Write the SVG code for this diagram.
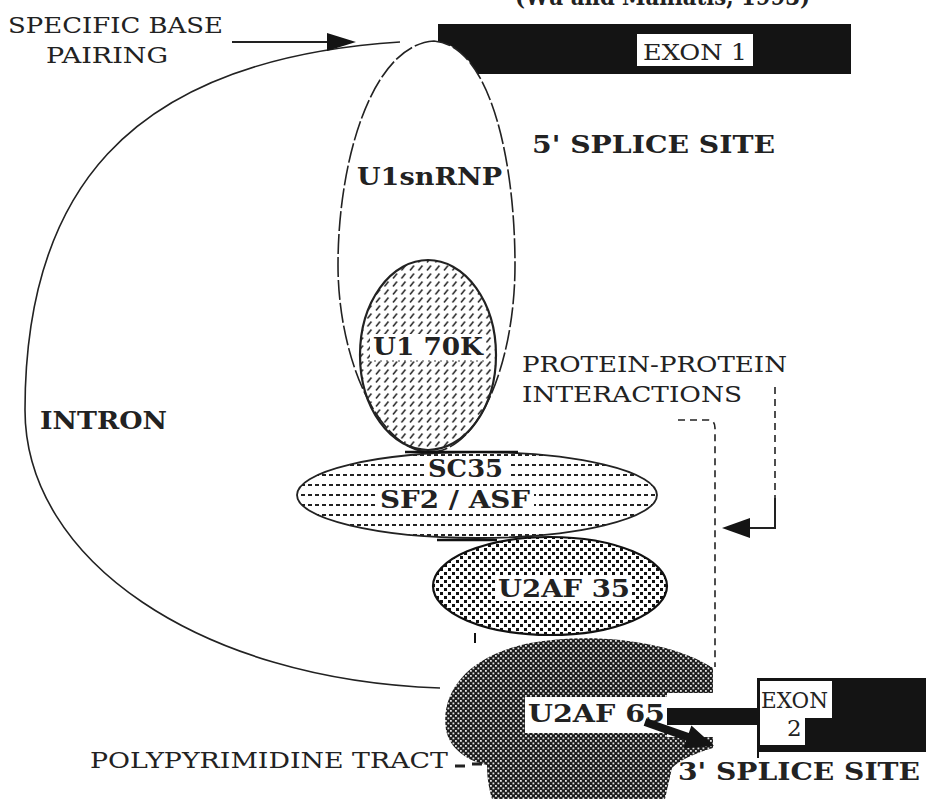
<svg xmlns="http://www.w3.org/2000/svg" width="926" height="799" viewBox="0 0 926 799">
<style>
.reg{font-family:"DejaVu Serif","Liberation Serif",serif;font-size:23px;fill:#222}
.bold{font-family:"DejaVu Serif","Liberation Serif",serif;font-size:25px;font-weight:bold;fill:#222}
.outline{fill:none;stroke:#222;stroke-width:1.6}
.dash{fill:none;stroke:#222;stroke-width:1.6;stroke-dasharray:7 5}
</style>
<defs>
<pattern id="hatch" width="8.5" height="8" patternUnits="userSpaceOnUse"><path d="M2 6.5 L6 1.5" stroke="#222" stroke-width="1.5"/></pattern>
<pattern id="hdash" width="7" height="10" patternUnits="userSpaceOnUse"><rect x="0" y="4" width="4" height="2" fill="#222"/></pattern>
<pattern id="dots" width="8" height="8" patternUnits="userSpaceOnUse"><rect x="0" y="0" width="3" height="3" fill="#111"/><rect x="4" y="4" width="3" height="3" fill="#111"/></pattern>
<pattern id="xh" width="5" height="5" patternUnits="userSpaceOnUse"><rect width="5" height="5" fill="#1c1c1c"/><rect x="0" y="0" width="1.8" height="1.8" fill="#e6e6e6"/><rect x="2.5" y="2.5" width="1.8" height="1.8" fill="#e6e6e6"/></pattern>
</defs>
<rect width="926" height="799" fill="#fff"/>

<text class="bold" x="515" y="5" textLength="295" lengthAdjust="spacingAndGlyphs">(Wu and Maniatis, 1993)</text>

<g id="exon1">
<rect x="438" y="24" width="413" height="50" fill="#141414"/>
<rect x="637" y="34" width="116" height="32" fill="#fff"/>
<text class="reg" x="643" y="60" textLength="104" lengthAdjust="spacingAndGlyphs">EXON 1</text>
</g>

<g id="u1snrnp">
<path d="M434 41 C372 45 338 160 338 265 C338 360 380 452 430 452 C480 452 515 360 515 265 C515 160 490 45 434 41 Z" fill="#fff"/>
<path d="M434 41 C372 45 338 160 338 265 C338 360 380 452 430 452 C480 452 515 360 515 265 C515 160 490 45 434 41 Z" fill="none" stroke="#222" stroke-width="1.6" stroke-dasharray="20 3"/>
<text class="bold" x="357" y="185" textLength="145" lengthAdjust="spacingAndGlyphs">U1snRNP</text>
</g>

<g id="intron">
<path class="outline" d="M400 42 C120 60 25 200 25 410 C25 560 200 680 440 688"/>
<text class="bold" x="40" y="429" textLength="127" lengthAdjust="spacingAndGlyphs">INTRON</text>
</g>

<g id="u1-70k">
<ellipse cx="428" cy="355" rx="68" ry="95" fill="url(#hatch)" stroke="#222" stroke-width="2.2"/>
<rect x="370" y="334" width="116" height="26" fill="#fff"/>
<line x1="368" y1="361" x2="488" y2="361" stroke="#444" stroke-width="1.2" stroke-dasharray="2 4"/>
<text class="bold" x="373" y="355" textLength="110" lengthAdjust="spacingAndGlyphs">U1 70K</text>
</g>

<g id="sc35-sf2">
<ellipse cx="477" cy="495" rx="180" ry="43" fill="#fff"/>
<ellipse cx="477" cy="495" rx="180" ry="43" fill="url(#hdash)" stroke="#222" stroke-width="1.8"/>
<rect x="424" y="458" width="84" height="23" fill="#fff"/>
<rect x="376" y="487" width="158" height="25" fill="#fff"/>
<line x1="405" y1="452" x2="518" y2="452" stroke="#111" stroke-width="2.5"/>
<line x1="437" y1="540" x2="497" y2="540" stroke="#111" stroke-width="2.5"/>
<text class="bold" x="428" y="477" textLength="75" lengthAdjust="spacingAndGlyphs">SC35</text>
<text class="bold" x="380" y="508" textLength="150" lengthAdjust="spacingAndGlyphs">SF2 / ASF</text>
</g>

<g id="u2af35">
<ellipse cx="550" cy="586" rx="117" ry="49" fill="url(#dots)" stroke="#111" stroke-width="2.2"/>
<rect x="496" y="575" width="136" height="26" fill="#fff"/>
<line x1="475" y1="633" x2="475" y2="643" stroke="#111" stroke-width="2"/>
<text class="bold" x="498" y="597" textLength="132" lengthAdjust="spacingAndGlyphs">U2AF 35</text>
</g>

<g id="u2af65">
<path d="M713 668 L713 693 L667 693 L667 737 L713 737 L713 748 C700 752 682 758 672 768 L665 799 L492 799 C488 785 487 775 487 765 C470 762 450 750 446 730 C440 690 470 655 530 643 C590 632 670 640 713 668 Z" fill="url(#xh)"/>
<rect x="525" y="697" width="142" height="36" fill="#fff"/>
<text class="bold" x="528" y="722" textLength="137" lengthAdjust="spacingAndGlyphs">U2AF 65</text>
<rect x="667" y="708" width="90" height="17" fill="#141414"/>
<polygon points="646.3,718.2 688.8,733.1 691.4,725.5 714,746 683.6,748.3 686.2,740.7 643.7,725.8" fill="#141414"/>
</g>

<g id="exon2">
<rect x="757" y="678" width="169" height="74" fill="#141414"/>
<rect x="760" y="681" width="72" height="37" fill="#fff"/>
<rect x="760" y="716" width="45" height="29" fill="#fff"/>
<line x1="758" y1="678" x2="758" y2="758" stroke="#141414" stroke-width="2"/>
<text class="reg" x="761" y="708" font-size="21" textLength="67" lengthAdjust="spacingAndGlyphs">EXON</text>
<text class="reg" x="787" y="736" font-size="21">2</text>
</g>

<g id="labels">
<text class="reg" x="8" y="33" textLength="215" lengthAdjust="spacingAndGlyphs">SPECIFIC BASE</text>
<text class="reg" x="46" y="63" textLength="122" lengthAdjust="spacingAndGlyphs">PAIRING</text>
<text class="bold" x="532" y="153" textLength="243" lengthAdjust="spacingAndGlyphs">5' SPLICE SITE</text>
<text class="reg" x="522" y="372" textLength="265" lengthAdjust="spacingAndGlyphs">PROTEIN-PROTEIN</text>
<text class="reg" x="522" y="402" textLength="220" lengthAdjust="spacingAndGlyphs">INTERACTIONS</text>
<text class="reg" x="90" y="768" textLength="358" lengthAdjust="spacingAndGlyphs">POLYPYRIMIDINE TRACT</text>
<text class="bold" x="678" y="780" textLength="242" lengthAdjust="spacingAndGlyphs">3' SPLICE SITE</text>
</g>

<g id="connectors">
<line x1="232" y1="42" x2="330" y2="42" stroke="#222" stroke-width="2"/>
<polygon points="356,42 327,33 327,51" fill="#141414"/>
<path class="dash" d="M678 420 L708 420 Q715 420 715 428 L715 667"/>
<path class="dash" d="M775 387 L775 500"/>
<path d="M775 498 L775 528 L748 528" fill="none" stroke="#222" stroke-width="2"/>
<polygon points="722,528 750,518 750,538" fill="#141414"/>
<path d="M455 766 L465 766 M472 764 L482 764" stroke="#222" stroke-width="3"/>
</g>
</svg>
